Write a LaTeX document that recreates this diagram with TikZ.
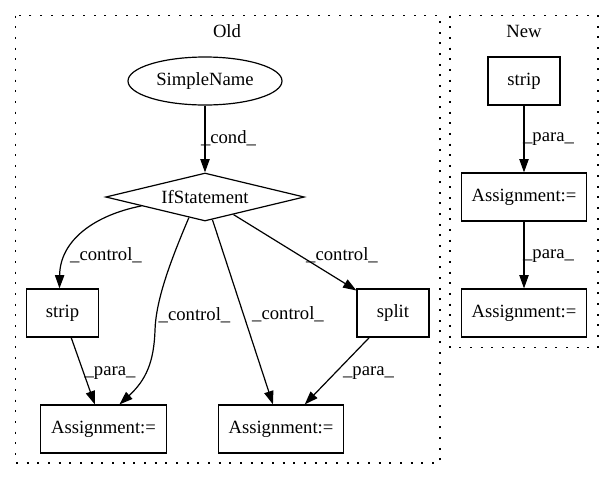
\documentclass[tikz,border=0pt]{standalone}
\usepackage{fontspec}
\setmainfont{Liberation Serif}
\usetikzlibrary{shapes.geometric,arrows.meta}
\begin{document}
\begin{tikzpicture}[x=0.75pt,y=-0.75pt,
  every node/.style={font=\fontsize{14pt}{16pt}\selectfont},
  box/.style={draw, line width=0.9pt, rectangle, inner sep=0pt, minimum height=36pt},
  cluster/.style={line width=1pt, dash pattern=on 1.5pt off 6.5pt},
  edge/.style={line width=0.9pt, -{Triangle[length=10pt,width=7pt]}},
  lbl/.style={inner sep=0pt}]
\useasboundingbox (0,0) rectangle (613,480);
% clusters
\draw[cluster] (15.5,15.5) rectangle (440,463);
\draw[cluster] (450,15.5) rectangle (598,347.5);
\node[lbl] (oldlbl) at (227,31) {Old};
\node[lbl] (newlbl) at (524,31) {New};
% Old nodes
\node[draw, line width=0.9pt, ellipse, inner sep=0pt, minimum width=115.5pt, minimum height=36pt] (sn) at (205,81) {SimpleName};
\node[draw, line width=0.9pt, diamond, aspect=4.15, inner sep=0pt, minimum width=149pt, minimum height=36pt] (if) at (205,197) {IfStatement};
\node[box, minimum width=54pt] (stripO) at (62.5,313) {strip};
\node[box, minimum width=54pt] (split) at (393,313) {split};
\node[box, minimum width=94pt] (assignL) at (103.5,429) {Assignment:=};
\node[box, minimum width=94pt] (assignR) at (281,429) {Assignment:=};
% New nodes
\node[box, minimum width=54pt] (stripN) at (524,81) {strip};
\node[box, minimum width=94pt] (assignN1) at (524,197) {Assignment:=};
\node[box, minimum width=94pt] (assignN2) at (524,313) {Assignment:=};
% Old edges
\draw[edge] (sn) -- (if);
\node[lbl] (l1) at (228.5,138) {\_cond\_};
\draw[edge] (if.188) .. controls (95,215) and (60,240) .. (stripO.97);
\node[lbl] (l2) at (106,255) {\_control\_};
\draw[edge] (if.232) .. controls (170,262) and (156,300) .. (155,330) .. controls (154,362) and (146,380) .. (assignL.57);
\node[lbl] (l3) at (194.5,315) {\_control\_};
\draw[edge] (if) -- (assignR);
\node[lbl] (l4) at (288,314) {\_control\_};
\draw[edge] (if) -- (split);
\node[lbl] (l5) at (342,255) {\_control\_};
\draw[edge] (stripO) -- (assignL);
\node[lbl] (l6) at (110,373) {\_para\_};
\draw[edge] (split) -- (assignR);
\node[lbl] (l7) at (368.5,373) {\_para\_};
% New edges
\draw[edge] (stripN) -- (assignN1);
\node[lbl] (l8) at (548.5,139) {\_para\_};
\draw[edge] (assignN1) -- (assignN2);
\node[lbl] (l9) at (548.5,256) {\_para\_};
\end{tikzpicture}
\end{document}
